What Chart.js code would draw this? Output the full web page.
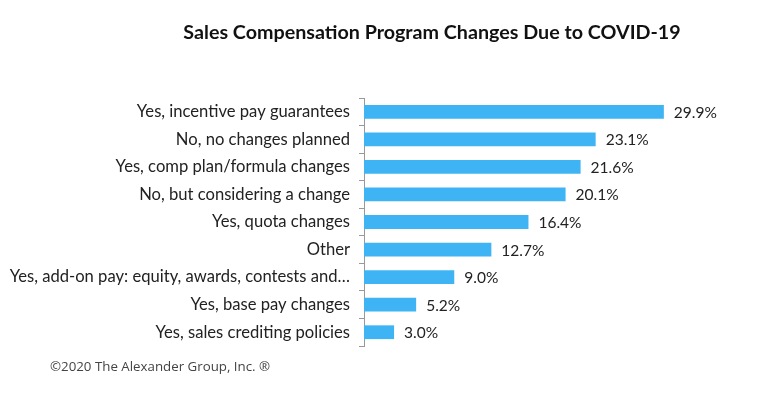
<!DOCTYPE html>
<html>
<head>
<meta charset="utf-8">
<script src="https://cdn.jsdelivr.net/npm/chart.js@4.4.0/dist/chart.umd.min.js"></script>
<style>
  html, body { margin: 0; padding: 0; background: #fff; }
  #wrap { position: relative; width: 772px; height: 394px; }
  #title {
    position: absolute; left: 0; width: 864px; top: 20px; text-align: center;
    font-family: Lato, sans-serif; font-weight: bold; font-size: 19.7px; color: #111;
  }
  #footer {
    position: absolute; left: 50px; top: 357px;
    font-family: "Open Sans", sans-serif; font-size: 13.3px; color: #444;
  }
</style>
</head>
<body>
<div id="wrap">
  <canvas id="chart" width="772" height="394"></canvas>
  <div id="title">Sales Compensation Program Changes Due to COVID-19</div>
  <div id="footer">©2020 The Alexander Group, Inc. ®</div>
</div>
<script>
const categories = [
  'Yes, incentive pay guarantees',
  'No, no changes planned',
  'Yes, comp plan/formula changes',
  'No, but considering a change',
  'Yes, quota changes',
  'Other',
  'Yes, add-on pay: equity, awards, contests and…',
  'Yes, base pay changes',
  'Yes, sales crediting policies'
];
const values = [29.9, 23.1, 21.6, 20.1, 16.4, 12.7, 9.0, 5.2, 3.0];

// value labels at the bar ends
const barLabels = {
  id: 'barLabels',
  afterDatasetsDraw(chart) {
    const ctx = chart.ctx;
    const meta = chart.getDatasetMeta(0);
    ctx.save();
    ctx.font = '15.5px Lato, sans-serif';
    ctx.fillStyle = '#222';
    ctx.textBaseline = 'middle';
    meta.data.forEach((bar, i) => {
      ctx.fillText(values[i].toFixed(1) + '%', bar.x + 10, bar.y + 1);
    });
    ctx.restore();
  }
};

new Chart(document.getElementById('chart'), {
  type: 'bar',
  data: {
    labels: categories,
    datasets: [{
      data: values,
      backgroundColor: '#3fb4f4',
      barPercentage: 0.5,
      categoryPercentage: 1
    }]
  },
  options: {
    indexAxis: 'y',
    responsive: false,
    animation: false,
    layout: { padding: { top: 98, bottom: 48, right: 57, left: 0 } },
    plugins: { legend: { display: false }, tooltip: { enabled: false } },
    scales: {
      x: { display: false, min: 0, max: 35 },
      y: {
        afterFit(scale) { scale.width = 364; },
        border: { color: '#999', width: 1 },
        grid: { offset: true, drawOnChartArea: false, tickLength: 5, color: '#999' },
        ticks: { color: '#222', padding: 9, font: { family: 'Lato, sans-serif', size: 16.6 } }
      }
    }
  },
  plugins: [barLabels]
});
</script>
</body>
</html>
